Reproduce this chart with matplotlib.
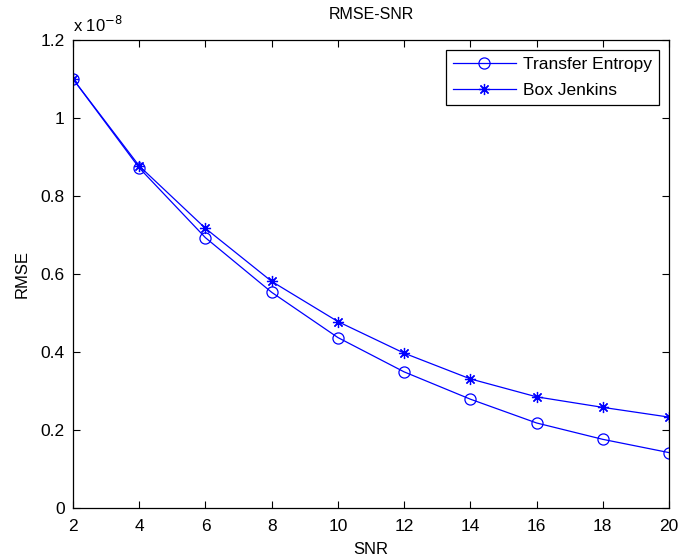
import numpy as np
import matplotlib
matplotlib.use("Agg")
import matplotlib.pyplot as plt
from matplotlib.ticker import FuncFormatter

plt.rcParams['font.family'] = ['Liberation Sans', 'DejaVu Sans']

snr = [2, 4, 6, 8, 10, 12, 14, 16, 18, 20]
# RMSE values in units of 1e-8
te = [1.10, 0.872, 0.693, 0.553, 0.437, 0.349, 0.279, 0.218, 0.176, 0.142]
bj = [1.10, 0.877, 0.717, 0.581, 0.478, 0.397, 0.331, 0.285, 0.258, 0.233]
scale = 1e-8

fig = plt.figure(figsize=(6.78, 5.6), dpi=100)
ax = fig.add_axes([0.1077, 0.0929, 0.879, 0.8357])

ax.plot(snr, np.array(te) * scale, color='blue', lw=0.9, marker='o',
        markersize=8, markerfacecolor='none', markeredgecolor='blue',
        markeredgewidth=0.9, label='Transfer Entropy')
ax.plot(snr, np.array(bj) * scale, color='blue', lw=0.9, marker=(8, 2, 0),
        markersize=8, markeredgecolor='blue', markeredgewidth=0.9,
        label='Box Jenkins')

ax.set_xlim(2, 20)
ax.set_ylim(0, 1.2e-8)
ax.set_xticks(snr)
ax.set_yticks(np.arange(0, 1.21, 0.2) * scale)
ax.yaxis.set_major_formatter(FuncFormatter(lambda v, p: '%g' % round(v / scale, 2)))
ax.tick_params(direction='in', top=True, right=True, length=5, labelsize=12.5)
ax.tick_params(axis='x', pad=8)
ax.tick_params(axis='y', pad=6)
for s in ax.spines.values():
    s.set_linewidth(0.9)

ax.text(0.0, 1.01, r'x 10$^{-8}$', transform=ax.transAxes, fontsize=12,
        ha='left', va='bottom')
ax.set_title('RMSE-SNR', fontsize=11.5, pad=15)
ax.set_xlabel('SNR', fontsize=12, labelpad=6)
ax.set_ylabel('RMSE', fontsize=12, labelpad=8)

leg = ax.legend(loc='upper right', fontsize=12.5, fancybox=False, framealpha=1,
                edgecolor='black', borderaxespad=0.6, handlelength=3.6,
                handletextpad=0.4, labelspacing=0.6)
leg.get_frame().set_linewidth(0.9)

fig.savefig('out.png', dpi=100)
